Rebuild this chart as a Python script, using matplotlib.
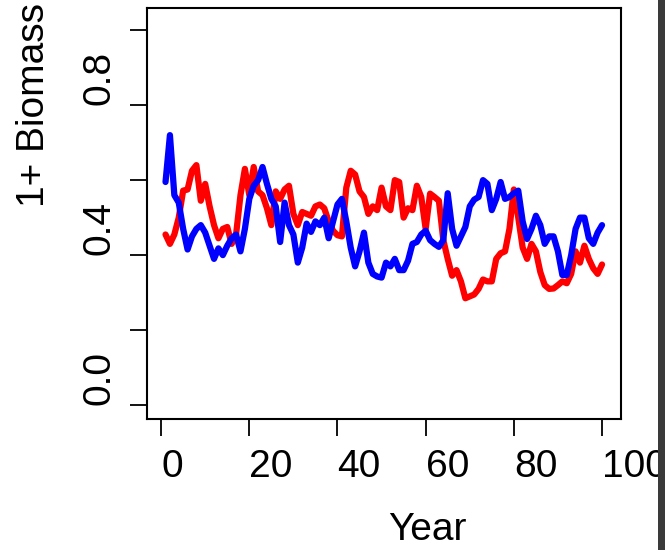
import matplotlib
matplotlib.use("Agg")
import matplotlib.pyplot as plt
from matplotlib.patches import Rectangle

plt.rcParams['font.family'] = ['Liberation Sans', 'DejaVu Sans']

years = list(range(1, 101))

red_biomass = [
    0.455, 0.43, 0.455, 0.50, 0.572, 0.575, 0.625, 0.64, 0.545, 0.59,
    0.53, 0.48, 0.445, 0.47, 0.475, 0.43, 0.455, 0.56, 0.63, 0.56,
    0.635, 0.57, 0.56, 0.525, 0.48, 0.57, 0.55, 0.575, 0.585, 0.51,
    0.48, 0.515, 0.51, 0.505, 0.53, 0.535, 0.525, 0.49, 0.465, 0.453,
    0.45, 0.58, 0.625, 0.615, 0.57, 0.555, 0.51, 0.53, 0.52, 0.58,
    0.53, 0.52, 0.60, 0.595, 0.50, 0.525, 0.52, 0.585, 0.555, 0.47,
    0.564, 0.555, 0.545, 0.44, 0.39, 0.345, 0.36, 0.33, 0.285, 0.29,
    0.295, 0.31, 0.335, 0.33, 0.33, 0.39, 0.405, 0.41, 0.47, 0.575,
    0.50, 0.42, 0.39, 0.43, 0.41, 0.355, 0.32, 0.31, 0.311, 0.32,
    0.33, 0.325, 0.35, 0.41, 0.38, 0.425, 0.39, 0.365, 0.35, 0.375,
]

blue_biomass = [
    0.595, 0.72, 0.56, 0.54, 0.47, 0.415, 0.45, 0.47, 0.48, 0.46,
    0.425, 0.39, 0.418, 0.40, 0.425, 0.445, 0.455, 0.41, 0.47, 0.55,
    0.585, 0.60, 0.635, 0.59, 0.55, 0.53, 0.435, 0.54, 0.48, 0.455,
    0.38, 0.42, 0.484, 0.462, 0.49, 0.48, 0.50, 0.445, 0.49, 0.535,
    0.55, 0.49, 0.42, 0.37, 0.41, 0.46, 0.38, 0.35, 0.343, 0.34,
    0.38, 0.37, 0.39, 0.36, 0.36, 0.385, 0.43, 0.435, 0.455, 0.465,
    0.44, 0.43, 0.422, 0.44, 0.565, 0.47, 0.425, 0.45, 0.475, 0.53,
    0.548, 0.555, 0.60, 0.59, 0.52, 0.55, 0.595, 0.55, 0.555, 0.565,
    0.572, 0.49, 0.443, 0.47, 0.505, 0.48, 0.43, 0.45, 0.45, 0.41,
    0.347, 0.347, 0.40, 0.47, 0.50, 0.50, 0.445, 0.43, 0.46, 0.48,
]

x_ticks = [0, 20, 40, 60, 80, 100]
y_ticks = [0.0, 0.2, 0.4, 0.6, 0.8, 1.0]
y_ticklabels = ['0.0', '', '0.4', '', '0.8', '']

W, H = 665, 550
fig = plt.figure(figsize=(W / 100, H / 100), dpi=100)
ax = fig.add_axes([147 / W, 1 - 419 / H, (621 - 147) / W, (419 - 8) / H])

ax.plot(years, red_biomass, color='#ff0000', lw=4.5, solid_joinstyle='round', solid_capstyle='round')
ax.plot(years, blue_biomass, color='#0000ff', lw=4.5, solid_joinstyle='round', solid_capstyle='round')

ax.set_xlim(-3.2, 104.3)
ax.set_ylim(-0.037, 1.059)
ax.set_xticks(x_ticks)
ax.set_xticklabels([str(v) for v in x_ticks], ha='left')
ax.set_yticks(y_ticks)
ax.set_yticklabels(y_ticklabels, rotation=90, va='bottom')

for s in ax.spines.values():
    s.set_linewidth(1.5)
    s.set_color('black')

ax.tick_params(axis='both', direction='out', length=12, width=1.3, labelsize=28, colors='black')
ax.tick_params(axis='x', pad=9.5)
ax.tick_params(axis='y', pad=9)

fig.text(34 / W, 1 - 105 / H, '1+ Biomass', rotation=90, ha='center', va='center', fontsize=28)
fig.text(427 / W, 1 - 530 / H, 'Year', ha='center', va='center', fontsize=28)

fig.patches.append(Rectangle((658 / W, 0), (W - 658) / W, 1, transform=fig.transFigure,
                             facecolor='#3a3a3a', edgecolor='none', zorder=10))

fig.savefig('out.png', dpi=100)
